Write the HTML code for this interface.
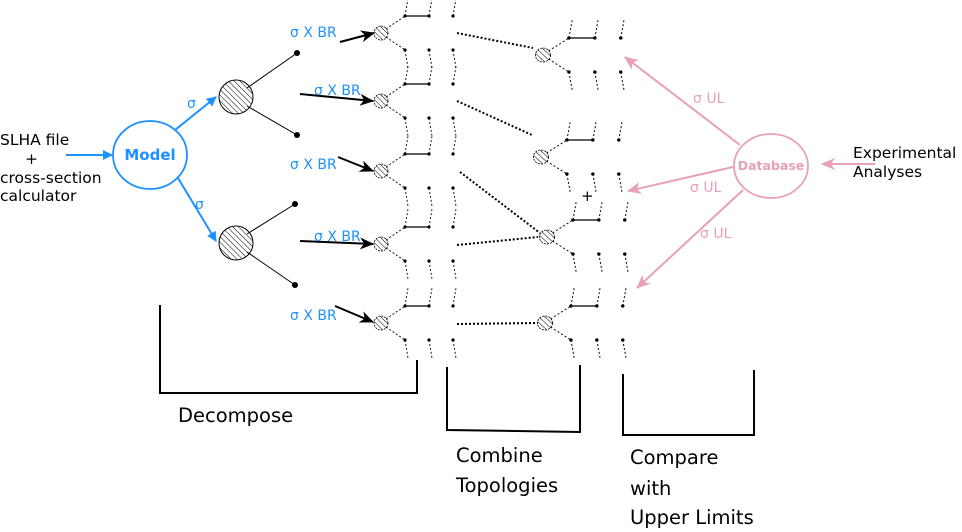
<!DOCTYPE html>
<html><head><meta charset="utf-8"><style>
body{margin:0;background:#fff}
svg{display:block}
text{font-family:"DejaVu Sans","Liberation Sans",sans-serif}
</style></head><body>
<svg width="962" height="532" viewBox="0 0 962 532" xmlns="http://www.w3.org/2000/svg">
<defs>
<pattern id="h" width="4" height="4" patternUnits="userSpaceOnUse" patternTransform="rotate(-45)">
<line x1="0" y1="0" x2="0" y2="4" stroke="#000" stroke-width="1"/></pattern>
<marker id="ab" markerWidth="10" markerHeight="10" refX="9" refY="5" orient="auto" markerUnits="userSpaceOnUse"><path d="M0,0 L10,5 L0,10 Z" fill="#1e90ff"/></marker>
<marker id="ak" markerWidth="14" markerHeight="12" refX="13" refY="6" orient="auto" markerUnits="userSpaceOnUse"><path d="M0,0 L14,6 L0,12 L4,6 Z" fill="#000"/></marker>
<marker id="ap" markerWidth="14" markerHeight="12" refX="13" refY="6" orient="auto" markerUnits="userSpaceOnUse"><path d="M0,0 L14,6 L0,12 L4,6 Z" fill="#e8a0b8"/></marker>
<g id="t">
<circle cx="0" cy="0" r="7" fill="url(#h)" stroke="#000" stroke-width="0.8" stroke-dasharray="2,1"/>
<g stroke="#000" stroke-width="0.9" stroke-dasharray="2,2" fill="none">
<line x1="5" y1="-4" x2="24" y2="-17"/><line x1="5" y1="4" x2="24" y2="17"/>
<line x1="24" y1="-17" x2="27" y2="-35"/><line x1="48" y1="-17" x2="51" y2="-35"/><line x1="72" y1="-17" x2="75" y2="-35"/>
<line x1="24" y1="17" x2="27" y2="35"/><line x1="48" y1="17" x2="51" y2="35"/><line x1="72" y1="17" x2="75" y2="35"/>
</g>
<line x1="24" y1="-17" x2="48" y2="-17" stroke="#000" stroke-width="1.2"/>
<g fill="#000"><circle cx="24" cy="-17" r="1.6"/><circle cx="48" cy="-17" r="1.6"/><circle cx="72" cy="-17" r="1.6"/>
<circle cx="24" cy="17" r="1.6"/><circle cx="48" cy="17" r="1.6"/><circle cx="72" cy="17" r="1.6"/></g>
</g>
</defs>

<g font-size="15.5">
<text x="0" y="145">SLHA file</text>
<text x="25" y="164">+</text>
<text x="0" y="183">cross-section</text>
<text x="0" y="201">calculator</text>
</g>
<line x1="66" y1="155" x2="112" y2="155" stroke="#1e90ff" stroke-width="2" marker-end="url(#ab)"/>
<ellipse cx="150" cy="155" rx="37" ry="34" fill="none" stroke="#1e90ff" stroke-width="1.8"/>
<text x="150" y="160" font-size="15" font-weight="bold" fill="#1e90ff" text-anchor="middle">Model</text>
<line x1="175" y1="130" x2="216" y2="97" stroke="#1e90ff" stroke-width="2" marker-end="url(#ab)"/>
<line x1="178" y1="178" x2="216" y2="241" stroke="#1e90ff" stroke-width="2" marker-end="url(#ab)"/>
<text x="187" y="108" font-size="14" fill="#1e90ff">σ</text>
<text x="195" y="209" font-size="14" fill="#1e90ff">σ</text>

<g stroke="#000" stroke-width="1">
<line x1="247" y1="88" x2="297" y2="53"/><line x1="247" y1="106" x2="297" y2="135"/>
<line x1="247" y1="234" x2="295" y2="204"/><line x1="247" y1="252" x2="295" y2="285"/>
</g>
<circle cx="236" cy="97" r="17" fill="url(#h)" stroke="#000"/>
<circle cx="236" cy="243" r="17" fill="url(#h)" stroke="#000"/>
<g fill="#000"><circle cx="297" cy="53" r="3"/><circle cx="297" cy="135" r="3"/><circle cx="295" cy="204" r="3"/><circle cx="295" cy="285" r="3"/></g>

<g stroke="#000" stroke-width="2">
<line x1="340" y1="42" x2="374" y2="33" marker-end="url(#ak)"/>
<line x1="300" y1="94" x2="373" y2="101" marker-end="url(#ak)"/>
<line x1="338" y1="157" x2="373" y2="171" marker-end="url(#ak)"/>
<line x1="300" y1="241" x2="373" y2="244" marker-end="url(#ak)"/>
<line x1="335" y1="306" x2="373" y2="322" marker-end="url(#ak)"/>
</g>
<g font-size="14" fill="#1e90ff">
<text x="290" y="37">σ X BR</text><text x="314" y="95">σ X BR</text><text x="290" y="169">σ X BR</text>
<text x="314" y="241">σ X BR</text><text x="290" y="320">σ X BR</text></g>

<use href="#t" x="381" y="33"/><use href="#t" x="381" y="101"/><use href="#t" x="381" y="171"/>
<use href="#t" x="381" y="244"/><use href="#t" x="381" y="323"/>

<g stroke="#000" stroke-width="2" stroke-dasharray="2,2">
<line x1="457" y1="33" x2="533" y2="48"/><line x1="457" y1="101" x2="532" y2="135"/>
<line x1="460" y1="172" x2="540" y2="233"/><line x1="457" y1="245" x2="538" y2="237"/>
<line x1="457" y1="324" x2="538" y2="323"/></g>
<g transform="translate(543,55) scale(1.08,1)"><use href="#t"/></g>
<g transform="translate(541,157) scale(1.08,1)"><use href="#t"/></g>
<g transform="translate(547,237) scale(1.08,1)"><use href="#t"/></g>
<g transform="translate(545,323) scale(1.08,1)"><use href="#t"/></g>
<text x="581" y="201" font-size="15">+</text>

<ellipse cx="771" cy="166" rx="37" ry="32" fill="none" stroke="#e8a0b8" stroke-width="1.8"/>
<text x="771" y="170" font-size="12.5" font-weight="bold" fill="#e8a0b8" text-anchor="middle">Database</text>
<g stroke="#e8a0b8" stroke-width="2">
<line x1="740" y1="145" x2="625" y2="57" marker-end="url(#ap)"/>
<line x1="733" y1="167" x2="628" y2="191" marker-end="url(#ap)"/>
<line x1="743" y1="190" x2="637" y2="288" marker-end="url(#ap)"/>
<line x1="875" y1="164" x2="822" y2="164" marker-end="url(#ap)"/>
</g>
<g font-size="14" fill="#e8a0b8"><text x="693" y="103">σ UL</text><text x="690" y="192">σ UL</text><text x="700" y="238">σ UL</text></g>
<text x="853" y="158" font-size="15.5">Experimental</text>
<text x="853" y="177" font-size="15.5">Analyses</text>

<g stroke="#000" stroke-width="2" fill="none">
<polyline points="160,305 160,393 417,393 417,360"/>
<polyline points="447,367 447,430 580,432 580,365"/>
<polyline points="623,374 623,435 754,435 754,370"/>
</g>
<g font-size="19.5">
<text x="178" y="422">Decompose</text>
<text x="456" y="462">Combine</text><text x="456" y="492">Topologies</text>
<text x="630" y="464">Compare</text><text x="630" y="495">with</text><text x="630" y="524">Upper Limits</text>
</g>
</svg>
</body></html>
